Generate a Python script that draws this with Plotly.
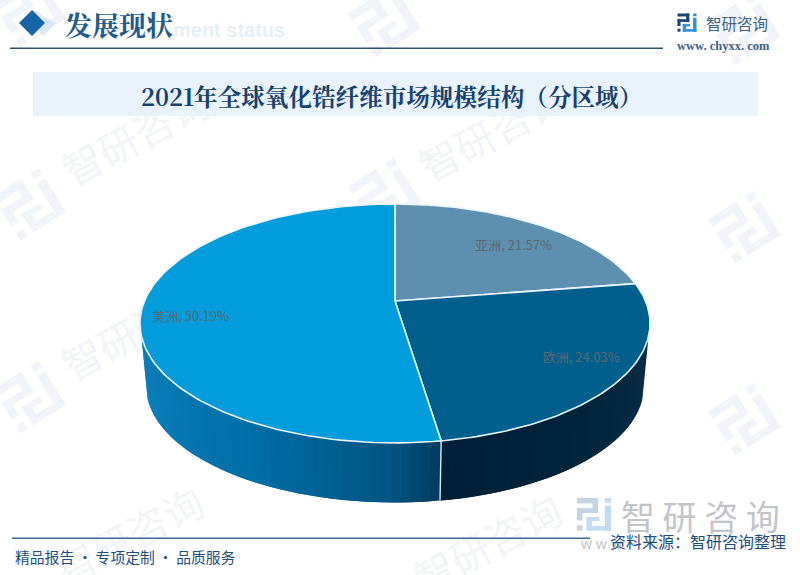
import math
import plotly.graph_objects as go

# ---- data ----
categories = ["亚洲", "欧洲", "美洲"]
shares = [21.57, 24.03, 50.19]

# ---- style / layout ----
top_colors = ["#5f8fae", "#005f8c", "#019cdb"]
wall_stops = {
    1: [(0.0, "#0a2d46"), (0.5, "#02253c"), (1.0, "#011f36")],
    2: [(0.0, "#023c60"), (0.12, "#025583"), (0.45, "#006ea6"), (1.0, "#0b80bd")],
}
SERIF = "Noto Serif CJK SC, Liberation Serif, Noto Sans CJK SC"
SANS = "Noto Sans CJK SC"
NAVY = "#1d4e7c"
W, H = 800, 575
AX, BX, K = 250.5, 115.2, 0.188
APEX = (395.0, 301.0)
ELL_CY, DROP_CY, SHRINK = 323.5, 386.0, 0.976
LABEL_R = 0.82
label_dx = [-1, 4, 3]
label_dy = [10, -4, 10]


def project(theta, r=1.0):
    """Angle clockwise from the top of the disc -> picture position."""
    X, Y = r * math.sin(theta), r * math.cos(theta)
    d = 1 + K * Y
    return APEX[0] + AX * X / d, APEX[1] - BX * Y / d


def lower(p):
    return APEX[0] + (p[0] - APEX[0]) * SHRINK, DROP_CY + (p[1] - ELL_CY) * SHRINK


def hex2rgb(c):
    return tuple(int(c[i:i + 2], 16) for i in (1, 3, 5))


def ramp(stops, t):
    for (a, ca), (b, cb) in zip(stops, stops[1:]):
        if t <= b:
            f = (t - a) / (b - a)
            ra, rb = hex2rgb(ca), hex2rgb(cb)
            return "rgb(%d,%d,%d)" % tuple(round(u + (v - u) * f) for u, v in zip(ra, rb))
    return stops[-1][1]


total = sum(shares)
edges = [0.0]
for v in shares:
    edges.append(edges[-1] + v / total * 2 * math.pi)

fig = go.Figure()


def poly(xs, ys, fill, line=None, width=0.0):
    fig.add_trace(go.Scatter(
        x=xs, y=ys, mode="lines", fill="toself", fillcolor=fill,
        line=dict(color=line or fill, width=width),
        hoverinfo="skip", showlegend=False))


# side wall: strips painted in order, each one overlapping the next to hide seams
WALL_START, WALL_END = math.radians(107), math.radians(253)
for i in (1, 2):
    a = max(edges[i], WALL_START)
    b = min(edges[i + 1], WALL_END)
    n = 44
    for j in range(n):
        t0 = a + (b - a) * j / n
        t1 = min(a + (b - a) * (j + 2) / n, b)
        p0, pm, p1 = project(t0), project((t0 + t1) / 2), project(t1)
        q0, qm, q1 = lower(p0), lower(pm), lower(p1)
        poly([p0[0], pm[0], p1[0], q1[0], qm[0], q0[0], p0[0]],
             [p0[1], pm[1], p1[1], q1[1], qm[1], q0[1], p0[1]],
             ramp(wall_stops[i], (j + 0.5) / n))

# divider on the wall
p = project(edges[2])
q = lower(p)
fig.add_trace(go.Scatter(x=[p[0], q[0]], y=[p[1], q[1]], mode="lines",
                         line=dict(color="#d6ecf7", width=1.4),
                         hoverinfo="skip", showlegend=False))

# top face
for i in range(3):
    n = 120
    pts = [project(edges[i] + (edges[i + 1] - edges[i]) * j / n) for j in range(n + 1)]
    xs = [APEX[0]] + [u[0] for u in pts] + [APEX[0]]
    ys = [APEX[1]] + [u[1] for u in pts] + [APEX[1]]
    poly(xs, ys, top_colors[i], line="#eaf5fb", width=1.6)

# slice labels
lab_x, lab_y, lab_t = [], [], []
for i, (c, v) in enumerate(zip(categories, shares)):
    px, py = project((edges[i] + edges[i + 1]) / 2, LABEL_R)
    lab_x.append(px + label_dx[i])
    lab_y.append(py + label_dy[i])
    lab_t.append(f"{c}, {v:.2f}%")
fig.add_trace(go.Scatter(x=lab_x, y=lab_y, mode="text", text=lab_t,
                         textposition="middle center",
                         textfont=dict(family=SANS, size=13, color="#596a75"),
                         hoverinfo="skip", showlegend=False))

shapes, annos = [], []


def text(x, y, s, size, color, family=SANS, anchor="center", bold=False, angle=0):
    annos.append(dict(x=x, y=y, xref="x", yref="y", text=f"<b>{s}</b>" if bold else s,
                      showarrow=False, xanchor=anchor, yanchor="middle", textangle=angle,
                      font=dict(size=size, color=color, family=family)))


def rect(x0, y0, x1, y1, fill):
    shapes.append(dict(type="rect", x0=x0, y0=y0, x1=x1, y1=y1, xref="x", yref="y",
                       fillcolor=fill, line=dict(width=0), layer="below"))


LOGO_A = [(0, 0, .62, .16), (.46, 0, .62, .44), (0, .3, .62, .44), (0, .3, .16, .66), (0, .8, .16, .96)]
LOGO_B = [(.82, 0, 1, .14), (.82, .22, 1, .96), (.28, .82, 1, .96), (.28, .56, .44, .96), (.28, .56, .66, .68)]


def logo(cx, cy, size, ca, cb, rot=0.0):
    c, s = math.cos(math.radians(rot)), math.sin(math.radians(rot))

    def tr(u, v):
        dx, dy = (u - .5) * size, (v - .5) * size
        return cx + dx * c - dy * s, cy + dx * s + dy * c

    for parts, col in ((LOGO_A, ca), (LOGO_B, cb)):
        for (u0, v0, u1, v1) in parts:
            corners = [tr(u0, v0), tr(u1, v0), tr(u1, v1), tr(u0, v1)]
            d = "M" + " L".join(f"{a:.1f},{b:.1f}" for a, b in corners) + " Z"
            shapes.append(dict(type="path", path=d, xref="x", yref="y", fillcolor=col,
                               line=dict(width=0), layer="below"))


def watermark_word(cx, cy):
    shapes.append(dict(type="rect", x0=cx - 5, y0=cy - 5, x1=cx + 5, y1=cy + 5, xref="x", yref="y",
                       line=dict(width=0), fillcolor="rgba(0,0,0,0)", layer="below",
                       label=dict(text="智研咨询", textangle=-28, textposition="middle center",
                                  font=dict(size=40, color="#f2f4f8", family=SANS))))


WM = "#f1f4f8"
for lx, ly in [(30, 205), (385, 195), (745, 228), (30, 398), (385, 395), (745, 420), (385, 22), (30, 12), (745, 30)]:
    logo(lx, ly, 54, WM, WM, rot=-32)
for wx, wy in [(138, 140), (495, 136), (138, 335), (495, 330), (132, 540), (490, 548)]:
    watermark_word(wx, wy)

# header
shapes.append(dict(type="path", path="M32,10 L56,23 L43,36 L32,23 Z", xref="x", yref="y",
                   fillcolor="#dbe7f2", line=dict(width=0), layer="below"))
shapes.append(dict(type="path", path="M32,10 L45,23 L32,36 L19,23 Z", xref="x", yref="y",
                   fillcolor="#1565a8", line=dict(width=0), layer="below"))
rect(10, 47.5, 663, 49, "#2c4f70")
rect(33, 72, 758, 116, "#e9f3fb")
text(287, 30, "ment status", 20, "#e8eff6", family="Liberation Sans", anchor="right", bold=True)
text(63, 24, "发展现状", 27, "#235a8e", family=SERIF, anchor="left", bold=True)
text(391.5, 96, "2021年全球氧化锆纤维市场规模结构（分区域）", 23.6, "#17426f", family=SERIF, bold=True)

# brand, top right
logo(687, 23, 19, "#1d4477", "#2f8fd8")
text(737, 23, "智研咨询", 15.5, "#3d6285")
text(723, 46, "www. chyxx. com", 12.5, "#3d6285", family="Liberation Serif", bold=True)

# footer
rect(12, 537.5, 590, 539, "#3a6d91")
logo(594, 515, 34, "#c6d3e0", "#c4dcf3")
text(700, 515, "智 研 咨 询", 34, "#c2c5c8")
text(578, 543, "w w w", 15, "#bfc4c8", family="Liberation Sans", anchor="left")
text(13, 556, "精品报告 · 专项定制 · 品质服务", 14.8, NAVY, anchor="left")
text(698, 541, "资料来源：智研咨询整理", 16, NAVY)

fig.update_layout(
    width=W, height=H, margin=dict(l=0, r=0, t=0, b=0),
    paper_bgcolor="white", plot_bgcolor="rgba(0,0,0,0)",
    xaxis=dict(range=[0, W], visible=False, fixedrange=True),
    yaxis=dict(range=[H, 0], visible=False, fixedrange=True),
    shapes=shapes, annotations=annos, showlegend=False,
)
fig.write_html("out.html", config=dict(displayModeBar=False), default_width=W, default_height=H,
               post_script="document.body.style.margin='0';document.body.style.overflow='hidden';")
